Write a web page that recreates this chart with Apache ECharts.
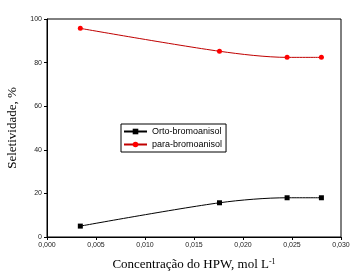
<!DOCTYPE html>
<html><head><meta charset="utf-8">
<script src="https://cdn.jsdelivr.net/npm/echarts@6/dist/echarts.min.js"></script>
<style>html,body{margin:0;padding:0;background:#fff}#c{width:356px;height:274px}</style>
</head><body><div id="c"></div>
<script>
const concentrations = [0.0034, 0.0176, 0.0245, 0.0280];
const orto = [5.0, 15.7, 18.0, 18.0];
const para = [95.7, 85.2, 82.4, 82.4];
const seriesNames = ['Orto-bromoanisol', 'para-bromoanisol'];
const xTicks = ['0,000','0,005','0,010','0,015','0,020','0,025','0,030'];

const chart = echarts.init(document.getElementById('c'), null, {renderer:'canvas'});
const pair = (xs, ys) => xs.map((x,i)=>[x, ys[i]]);
chart.setOption({
  animation:false,
  backgroundColor:'#fff',
  grid:{left:47,right:15,top:19,bottom:37,show:true,borderColor:'#000',borderWidth:1,backgroundColor:'transparent',
        containLabel:false, outerBoundsMode:'none'},
  legend:{
    left:121, top:124, orient:'vertical', itemGap:4, itemWidth:23, itemHeight:7,
    borderColor:'#000', borderWidth:1, padding:[3,4,3,2], borderRadius:0,
    textStyle:{fontFamily:'Liberation Sans, Arial',fontSize:9,color:'#000',padding:[0,0,0,0]},
    data:seriesNames
  },
  xAxis:{type:'value',min:0,max:0.03,interval:0.005,
    axisLine:{show:true,lineStyle:{color:'#000',width:1}},
    axisTick:{show:true,inside:false,length:3,lineStyle:{color:'#000'}},
    splitLine:{show:false},
    axisLabel:{fontSize:7,color:'#222',fontFamily:'Liberation Sans, Arial',margin:5,
      formatter:(v)=>xTicks[Math.round(v/0.005)]},
    name:'Concentração do HPW, mol L{s|-1}', nameLocation:'middle', nameGap:21,
    nameTextStyle:{fontFamily:'Liberation Serif, Times New Roman',fontSize:13,color:'#000',
      rich:{s:{fontSize:8,verticalAlign:'top',fontFamily:'Liberation Serif',color:'#000',padding:[0,0,6,0]}}}
  },
  yAxis:{type:'value',min:0,max:100,interval:20,
    axisLine:{show:true,lineStyle:{color:'#000',width:1}},
    axisTick:{show:true,inside:false,length:3,lineStyle:{color:'#000'}},
    splitLine:{show:false},
    axisLabel:{fontSize:7,color:'#222',fontFamily:'Liberation Sans, Arial',margin:5},
    name:'Seletividade, %', nameLocation:'middle', nameGap:23,
    nameTextStyle:{fontFamily:'Liberation Serif, Times New Roman',fontSize:13,color:'#000'}
  },
  series:[
    {name:seriesNames[0],type:'line',data:pair(concentrations,orto),smooth:0.3,
     symbol:'rect',symbolSize:5,lineStyle:{color:'#000',width:1},itemStyle:{color:'#000'}},
    {name:seriesNames[1],type:'line',data:pair(concentrations,para),smooth:0.3,
     symbol:'circle',symbolSize:5,lineStyle:{color:'#c00000',width:1},itemStyle:{color:'#ff0000'}}
  ]
});
</script></body></html>
